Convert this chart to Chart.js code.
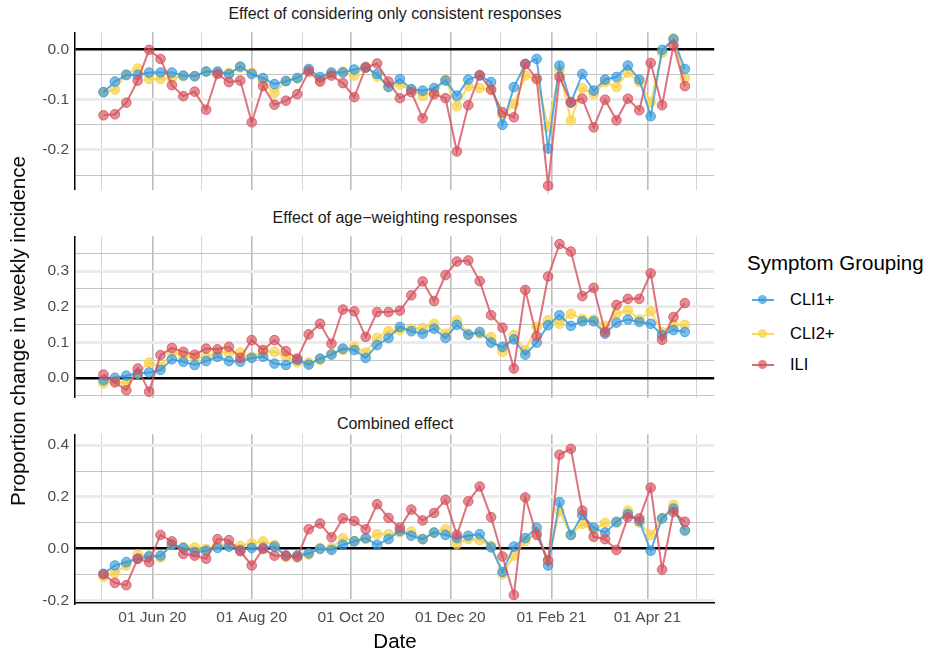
<!DOCTYPE html>
<html>
<head>
<meta charset="utf-8">
<script src="https://cdn.jsdelivr.net/npm/chart.js@4"></script>
<style>
  body { margin: 0; background: #fff; font-family: "Liberation Sans", Arial, sans-serif; }
  #wrap { position: relative; width: 930px; height: 651px; }
  .panel { position: absolute; left: 0; }
  .strip { position: absolute; left: 75px; width: 640px; text-align: center; font-size: 16px; color: #1a1a1a; }
  .ytitle { position: absolute; left: 18px; top: 331px; transform: translate(-50%, -50%) rotate(-90deg); font-size: 20.5px; white-space: nowrap; color: #000; }
  .xtitle { position: absolute; left: 395px; top: 629px; transform: translateX(-50%); font-size: 20.5px; color: #000; }
  .leg-title { position: absolute; left: 747px; top: 251px; font-size: 20.5px; color: #000; }
  .leg-item { position: absolute; left: 750px; font-size: 16.5px; color: #000; height: 20px; }
  .leg-item .ln { position: absolute; left: 2px; top: 9px; width: 22px; height: 2px; }
  .leg-item .dt { position: absolute; left: 8px; top: 5px; width: 9px; height: 9px; border-radius: 50%; }
  .leg-item span { position: absolute; left: 40px; top: 0px; white-space: nowrap; }
</style>
</head>
<body>
<div id="wrap">
  <div class="strip" style="top:5px">Effect of considering only consistent responses</div>
  <div class="strip" style="top:209px">Effect of age−weighting responses</div>
  <div class="strip" style="top:415px">Combined effect</div>
  <canvas id="p1" class="panel" style="top:17px" width="720" height="188"></canvas>
  <canvas id="p2" class="panel" style="top:221px" width="720" height="192"></canvas>
  <canvas id="p3" class="panel" style="top:419px" width="720" height="212"></canvas>
  <div class="ytitle">Proportion change in weekly incidence</div>
  <div class="xtitle">Date</div>
  <div class="leg-title">Symptom Grouping</div>
  <div class="leg-item" style="top:290px"><div class="ln" style="background:rgba(52,152,219,0.85)"></div><div class="dt" style="background:rgba(52,152,219,0.7)"></div><span>CLI1+</span></div>
  <div class="leg-item" style="top:324px"><div class="ln" style="background:rgba(250,210,70,0.85)"></div><div class="dt" style="background:rgba(250,210,70,0.75)"></div><span>CLI2+</span></div>
  <div class="leg-item" style="top:355px"><div class="ln" style="background:rgba(214,80,92,0.85)"></div><div class="dt" style="background:rgba(214,80,92,0.7)"></div><span>ILI</span></div>
</div>
<script>
// weekly estimates, first week starting 2020-05-02
const firstWeek = "2020-05-02";
const nWeeks = 52;

const consistentCLI1 = [-0.085,-0.064,-0.051,-0.051,-0.046,-0.046,-0.046,-0.052,-0.053,-0.044,-0.044,-0.049,-0.034,-0.049,-0.057,-0.069,-0.063,-0.057,-0.039,-0.055,-0.046,-0.046,-0.040,-0.036,-0.049,-0.075,-0.059,-0.079,-0.082,-0.077,-0.062,-0.092,-0.060,-0.052,-0.065,-0.150,-0.075,-0.029,-0.019,-0.197,-0.032,-0.106,-0.049,-0.082,-0.060,-0.055,-0.032,-0.060,-0.133,-0.001,0.020,-0.039];
const consistentCLI2 = [-0.085,-0.080,-0.049,-0.038,-0.059,-0.059,-0.057,-0.053,-0.054,-0.044,-0.047,-0.047,-0.036,-0.046,-0.065,-0.087,-0.063,-0.057,-0.041,-0.062,-0.047,-0.044,-0.052,-0.034,-0.054,-0.073,-0.070,-0.080,-0.092,-0.085,-0.060,-0.113,-0.073,-0.077,-0.080,-0.131,-0.108,-0.052,-0.057,-0.154,-0.042,-0.141,-0.077,-0.089,-0.065,-0.075,-0.046,-0.065,-0.105,-0.007,0.022,-0.057];
const consistentILI = [-0.131,-0.129,-0.106,-0.062,-0.001,-0.019,-0.071,-0.093,-0.084,-0.120,-0.049,-0.065,-0.062,-0.145,-0.073,-0.110,-0.102,-0.089,-0.044,-0.064,-0.052,-0.067,-0.095,-0.036,-0.028,-0.064,-0.097,-0.085,-0.137,-0.089,-0.097,-0.203,-0.111,-0.051,-0.080,-0.125,-0.135,-0.029,-0.059,-0.271,-0.055,-0.105,-0.098,-0.155,-0.100,-0.141,-0.098,-0.121,-0.027,-0.111,0.008,-0.073];

const ageCLI1 = [-0.007,0,0.006,0.012,0.015,0.022,0.052,0.045,0.036,0.047,0.059,0.047,0.045,0.056,0.059,0.040,0.036,0.050,0.037,0.054,0.065,0.082,0.078,0.056,0.092,0.112,0.143,0.131,0.124,0.138,0.112,0.149,0.121,0.129,0.099,0.087,0.108,0.065,0.099,0.148,0.176,0.146,0.159,0.159,0.124,0.155,0.164,0.157,0.152,0.120,0.134,0.129];
const ageCLI2 = [-0.016,-0.009,-0.016,0.012,0.043,0.031,0.071,0.062,0.056,0.059,0.071,0.071,0.071,0.059,0.073,0.073,0.059,0.043,0.043,0.050,0.068,0.078,0.087,0.071,0.112,0.131,0.134,0.138,0.140,0.152,0.124,0.162,0.124,0.124,0.115,0.073,0.120,0.078,0.143,0.162,0.152,0.180,0.166,0.164,0.146,0.180,0.190,0.164,0.187,0.129,0.149,0.149];
const ageILI = [0.009,-0.013,-0.035,0.026,-0.039,0.064,0.084,0.073,0.065,0.082,0.080,0.087,0.056,0.106,0.078,0.106,0.075,0.054,0.122,0.152,0.096,0.192,0.187,0.115,0.185,0.185,0.189,0.232,0.271,0.216,0.289,0.327,0.330,0.272,0.176,0.141,0.026,0.247,0.117,0.285,0.376,0.355,0.230,0.253,0.129,0.205,0.222,0.222,0.294,0.107,0.171,0.210];

const combinedCLI1 = [-0.097,-0.065,-0.052,-0.039,-0.030,-0.027,0.015,0.003,-0.014,-0.008,0.003,0.008,-0.005,0.003,0.003,0.008,-0.027,-0.027,-0.018,-0.001,-0.005,0.015,0.028,0.041,0.015,0.037,0.069,0.050,0.037,0.062,0.053,0.041,0.050,0.056,0.005,-0.090,0.008,0.041,0.081,-0.065,0.180,0.053,0.130,0.081,0.062,0.104,0.134,0.107,-0.008,0.117,0.155,0.071];
const combinedCLI2 = [-0.109,-0.094,-0.065,-0.023,-0.027,-0.035,0.018,0.005,0.005,-0.001,0.015,0.015,0.011,0.020,0.028,0.015,-0.033,-0.027,-0.023,0.003,0.003,0.041,0.030,0.037,0.056,0.056,0.062,0.066,0.037,0.062,0.075,0.018,0.037,0.033,0.011,-0.099,-0.027,0.030,0.062,-0.043,0.145,0.053,0.096,0.071,0.100,0.100,0.147,0.100,0.053,0.117,0.170,0.069];
const combinedILI = [-0.099,-0.132,-0.141,-0.039,-0.052,0.053,0.028,-0.020,-0.027,-0.039,0.037,0.033,-0.010,-0.065,-0.001,-0.027,-0.027,-0.033,0.075,0.097,0.044,0.117,0.107,0.075,0.172,0.119,0.081,0.151,0.109,0.138,0.189,0.053,0.183,0.240,0.122,-0.030,-0.179,0.198,0.053,-0.046,0.363,0.386,0.147,0.046,0.037,-0.005,0.122,0.117,0.236,-0.081,0.142,0.104];

const monthStarts = ["2020-05-01","2020-06-01","2020-07-01","2020-08-01","2020-09-01","2020-10-01","2020-11-01","2020-12-01","2021-01-01","2021-02-01","2021-03-01","2021-04-01","2021-05-01"];
const monthLabels = ["", "01 Jun 20", "", "01 Aug 20", "", "01 Oct 20", "", "01 Dec 20", "", "01 Feb 21", "", "01 Apr 21", ""];

const DAY = 86400000;
const origin = Date.parse("2020-05-01");
const dayOf = s => (Date.parse(s) - origin) / DAY;
const weekX = [];
for (let i = 0; i < nWeeks; i++) weekX.push(dayOf(firstWeek) + 7 * i);
const monthX = monthStarts.map(dayOf);

const colors = {
  CLI1: ["rgba(52,152,219,0.8)", "rgba(52,152,219,0.65)"],
  CLI2: ["rgba(250,210,70,0.85)", "rgba(250,210,70,0.7)"],
  ILI: ["rgba(214,80,92,0.8)", "rgba(214,80,92,0.65)"]
};

function ds(label, vals, c, order) {
  return {
    label, order, clip: false,
    data: vals.map((v, i) => ({ x: weekX[i], y: v })),
    borderColor: c[0], backgroundColor: c[1], borderWidth: 2,
    pointRadius: 4.8, pointBorderWidth: 1, pointBorderColor: c[0]
  };
}

function panel(id, series, yMin, yMax, yTicks, yLabelStep, showX) {
  const isLabel = v => Math.abs(Math.round(v / yLabelStep) * yLabelStep - v) < 1e-6;
  new Chart(document.getElementById(id), {
    type: "line",
    data: {
      datasets: [
        ds("CLI2+", series[1], colors.CLI2, 3),
        ds("CLI1+", series[0], colors.CLI1, 2),
        ds("ILI", series[2], colors.ILI, 1)
      ]
    },
    options: {
      responsive: false, animation: false,
      layout: { padding: { left: 0, right: 5, top: 0, bottom: 0 } },
      plugins: { legend: { display: false }, tooltip: { enabled: false } },
      scales: {
        x: {
          type: "linear", min: -16.5, max: 376,
          afterBuildTicks: s => { s.ticks = monthX.map(v => ({ value: v })); },
          afterFit: s => { s.height = showX ? 28 : 0; },
          ticks: {
            display: showX, autoSkip: false, maxRotation: 0, padding: 5,
            font: { family: "Liberation Sans", size: 15.5 }, color: "#4d4d4d",
            callback: (v, i) => monthLabels[i]
          },
          grid: {
            drawTicks: false,
            color: c => (c.index % 2 === 1 ? "#bdbdbd" : "#d6d6d6"),
            lineWidth: c => (c.index % 2 === 1 ? 1.6 : 1)
          },
          border: { display: showX, color: "#000", width: 1.5 }
        },
        y: {
          min: yMin, max: yMax,
          afterBuildTicks: s => { s.ticks = yTicks.map(v => ({ value: v })); },
          afterFit: s => { s.width = 75; },
          ticks: {
            autoSkip: false,
            padding: 6, font: { family: "Liberation Sans", size: 15.5 }, color: "#4d4d4d",
            callback: v => (isLabel(v) ? (Math.abs(v) < 1e-9 ? "0.0" : v.toFixed(1)) : "")
          },
          grid: {
            drawTicks: false,
            color: c => (Math.abs(c.tick.value) < 1e-9 ? "#000" : isLabel(c.tick.value) ? "#ebebeb" : "#c4c4c4"),
            lineWidth: c => (Math.abs(c.tick.value) < 1e-9 ? 2.5 : isLabel(c.tick.value) ? 3 : 1)
          },
          border: { display: true, color: "#000", width: 1.5 }
        }
      }
    }
  });
}

panel("p1", [consistentCLI1, consistentCLI2, consistentILI], -0.279, 0.034,
  [-0.25, -0.2, -0.15, -0.1, -0.05, 0], 0.1, false);
panel("p2", [ageCLI1, ageCLI2, ageILI], -0.056, 0.398,
  [-0.05, 0, 0.05, 0.1, 0.15, 0.2, 0.25, 0.3, 0.35], 0.1, false);
panel("p3", [combinedCLI1, combinedCLI2, combinedILI], -0.21, 0.442,
  [-0.2, -0.1, 0, 0.1, 0.2, 0.3, 0.4], 0.2, true);
</script>
</body>
</html>
